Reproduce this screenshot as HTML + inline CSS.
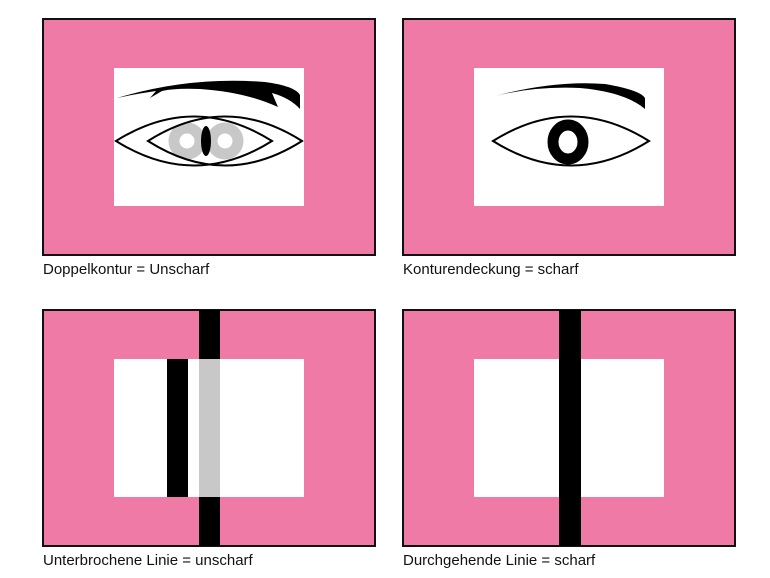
<!DOCTYPE html>
<html><head><meta charset="utf-8"><style>
html,body{margin:0;padding:0;background:#fff;}
svg{display:block;}
text{font-family:"Liberation Sans",sans-serif;font-size:15px;fill:#111;}
</style></head><body>
<svg width="770" height="578" viewBox="0 0 770 578" xmlns="http://www.w3.org/2000/svg">
<g stroke="#111" stroke-width="2">
<rect x="43" y="19" width="332" height="236" fill="#f07aa6"/>
<rect x="403" y="19" width="332" height="236" fill="#f07aa6"/>
<rect x="43" y="310" width="332" height="236" fill="#f07aa6"/>
<rect x="403" y="310" width="332" height="236" fill="#f07aa6"/>
</g>
<rect x="114" y="68" width="190" height="138" fill="#fff"/>
<rect x="474" y="68" width="190" height="138" fill="#fff"/>
<rect x="114" y="359" width="190" height="138" fill="#fff"/>
<rect x="474" y="359" width="190" height="138" fill="#fff"/>

<!-- eye 1 -->
<path d="M117,98 Q190,76 265,82 Q295,86 300,95 L300,109 Q290,98 272,93 L278,107 Q245,92 200,89 Q175,88 162,91 L150,98 L156,91 Q135,94 117,98 Z" fill="#000"/>
<circle cx="187" cy="141" r="13" fill="none" stroke="#c8c8c8" stroke-width="11"/>
<circle cx="225" cy="141" r="13" fill="none" stroke="#c8c8c8" stroke-width="11"/>
<ellipse cx="206" cy="141" rx="5" ry="15" fill="#000"/>
<g fill="none" stroke="#000" stroke-width="2">
<path d="M116,141 Q194,92 272,141 Q194,190 116,141 Z"/>
<path d="M148,141 Q225,92 302,141 Q225,190 148,141 Z"/>
</g>

<!-- eye 2 -->
<path d="M495,96 Q555,80 605,84 Q640,90 645,98 L645,109 Q625,92 580,88 Q535,86 495,96 Z" fill="#000"/>
<path d="M493,141 Q571,92 649,141 Q571,190 493,141 Z" fill="none" stroke="#000" stroke-width="2"/>
<ellipse cx="568" cy="142" rx="15" ry="17" fill="none" stroke="#000" stroke-width="11"/>

<!-- bars -->
<rect x="199" y="310" width="21" height="236" fill="#000"/>
<rect x="199" y="359" width="21" height="138" fill="#c8c8c8"/>
<rect x="167" y="359" width="21" height="138" fill="#000"/>
<rect x="559" y="310" width="22" height="236" fill="#000"/>

<text x="43" y="274">Doppelkontur = Unscharf</text>
<text x="403" y="274">Konturendeckung = scharf</text>
<text x="43" y="565">Unterbrochene Linie = unscharf</text>
<text x="403" y="565">Durchgehende Linie = scharf</text>
</svg>
</body></html>
